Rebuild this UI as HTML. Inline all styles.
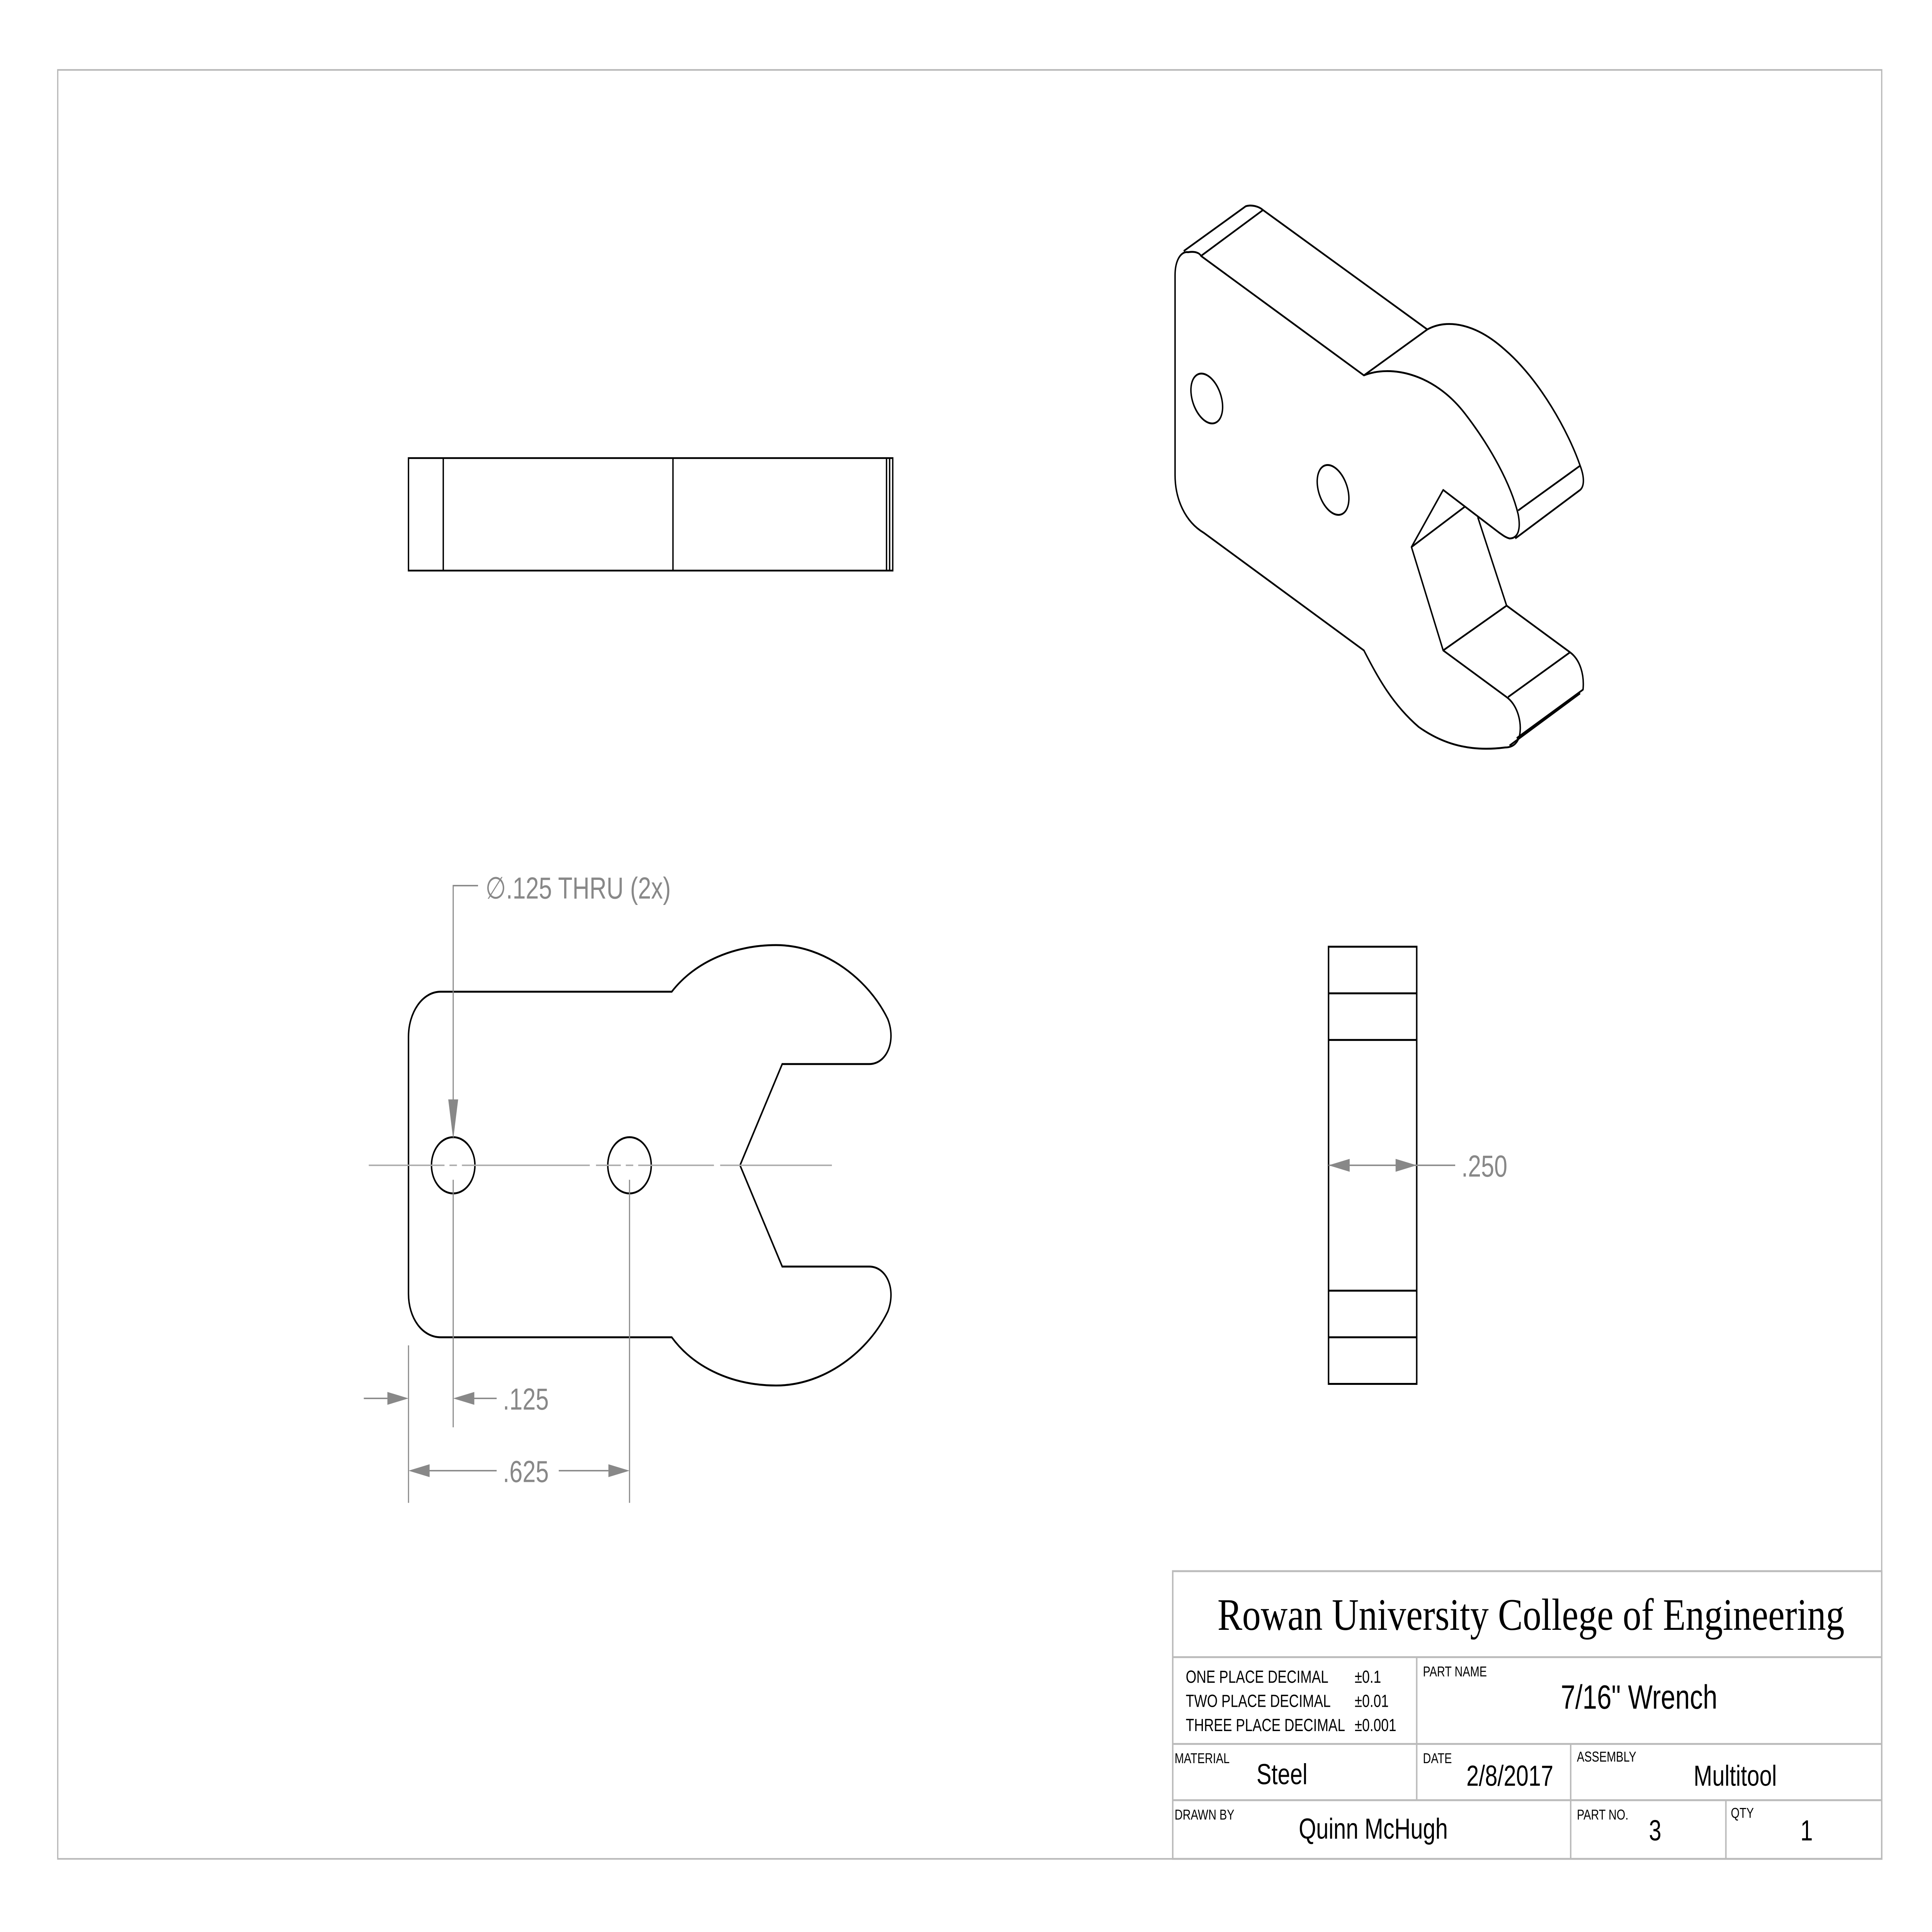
<!DOCTYPE html>
<html><head><meta charset="utf-8"><style>
html,body{margin:0;padding:0;background:#fff;width:100%;height:100%;overflow:hidden}
svg{display:block;width:100vw;height:100vh}
</style></head><body>
<svg viewBox="0 0 1556 1202" preserveAspectRatio="none" xmlns="http://www.w3.org/2000/svg">
<rect x="0" y="0" width="1556" height="1202" fill="#fff"/>
<rect x="46.5" y="43.5" width="1469" height="1113" fill="none" stroke="#b8b8b8" stroke-width="1"/>

<g fill="none" stroke="#000" stroke-width="1.1">
<rect x="329" y="285" width="390" height="70"/>
<line x1="357" y1="285" x2="357" y2="355"/>
<line x1="542" y1="285" x2="542" y2="355"/>
<line x1="714" y1="285" x2="714" y2="355"/>
<line x1="716.5" y1="285" x2="716.5" y2="355"/>
</g>

<g fill="none" stroke="#000" stroke-width="1.2">
<path d="M355,617 L541,617 C560,598 592,588 625,588 C665,588 700,610 715,634 C722,648 714,662 700,662 L630,662 L596,725 L630,788 L700,788 C714,788 722,802 715,816 C700,840 665,862 625,862 C592,862 560,852 541,832 L355,832 C340,832 329,820 329,805 L329,645 C329,630 340,617 355,617 Z"/>
<circle cx="365" cy="725" r="17.5"/>
<circle cx="507" cy="725" r="17.5"/>
</g>
<g stroke="#aaa" stroke-width="0.9" fill="none">
<line x1="297" y1="725" x2="358" y2="725"/>
<line x1="362" y1="725" x2="368" y2="725"/>
<line x1="372" y1="725" x2="475" y2="725"/>
<line x1="480" y1="725" x2="500" y2="725"/>
<line x1="504" y1="725" x2="510" y2="725"/>
<line x1="514" y1="725" x2="575" y2="725"/>
<line x1="580" y1="725" x2="670" y2="725"/>
</g>
<g stroke="#888" stroke-width="0.9" fill="none">
<polyline points="385,551 365,551 365,700"/>
<line x1="365" y1="734" x2="365" y2="888"/>
<line x1="507" y1="734" x2="507" y2="935"/>
<line x1="329" y1="837" x2="329" y2="935"/>
<line x1="293" y1="870" x2="312" y2="870"/>
<line x1="380" y1="870" x2="400" y2="870"/>
<line x1="345" y1="915" x2="400" y2="915"/>
<line x1="450" y1="915" x2="490" y2="915"/>
</g>
<g fill="#888">
<polygon points="365,709 361,684 369,684"/>
<polygon points="329,870 312,866 312,874"/>
<polygon points="365,870 382,866 382,874"/>
<polygon points="329,915 346,911 346,919"/>
<polygon points="507,915 490,911 490,919"/>
</g>
<g fill="#888" font-family="'Liberation Sans Narrow','Liberation Sans',sans-serif" font-size="19">
<text x="405" y="877">.125</text>
<text x="405" y="922">.625</text>
<text x="391" y="559">∅.125 THRU (2x)</text>
</g>

<g fill="none" stroke="#000" stroke-width="1.2">
<rect x="1070" y="589" width="71" height="272"/>
<line x1="1070" y1="618" x2="1141" y2="618"/>
<line x1="1070" y1="647" x2="1141" y2="647"/>
<line x1="1070" y1="803" x2="1141" y2="803"/>
<line x1="1070" y1="832" x2="1141" y2="832"/>
</g>
<line x1="1070" y1="725" x2="1172" y2="725" stroke="#888" stroke-width="0.9"/>
<polygon points="1070,725 1087,721 1087,729" fill="#888"/>
<polygon points="1141,725 1124,721 1124,729" fill="#888"/>
<text x="1177" y="732" fill="#888" font-family="'Liberation Sans',sans-serif" font-size="19">.250</text>

<g transform="translate(933.6,117.9) scale(0.2322)" fill="none" stroke="#000" stroke-width="5" stroke-linejoin="round">
<path d="M100,168 C125,165 140,170 145,178 L710,498 C800,470 950,490 1060,600 C1150,690 1220,790 1245,870 C1255,910 1245,935 1215,935 C1200,932 1190,925 1180,920 L985,805 L875,958 L985,1235 L1205,1360 C1240,1380 1255,1420 1252,1450 C1250,1480 1230,1495 1200,1495 C1100,1505 1000,1495 900,1440 C810,1380 760,1310 710,1235 L155,920 C90,890 55,830 55,765 L55,230 C55,190 75,165 100,168 Z"/>
<path d="M85,165 L300,45 C320,40 345,45 360,55 L930,375"/>
<line x1="145" y1="178" x2="360" y2="55"/>
<line x1="710" y1="498" x2="930" y2="375"/>
<path d="M930,375 C1000,345 1100,360 1200,430 C1320,510 1420,650 1460,740 C1475,770 1475,795 1460,805 L1235,935"/>
<line x1="1245" y1="860" x2="1460" y2="740"/>
<line x1="875" y1="958" x2="1060" y2="850"/>
<line x1="1105" y1="878" x2="1205" y2="1115"/>
<line x1="1205" y1="1115" x2="985" y2="1235"/>
<line x1="1205" y1="1115" x2="1425" y2="1240"/>
<line x1="1210" y1="1360" x2="1425" y2="1240"/>
<path d="M1425,1240 C1460,1260 1475,1300 1470,1340 L1240,1470"/>
<line x1="1460" y1="1350" x2="1215" y2="1490"/>
<ellipse cx="165" cy="560" rx="48" ry="72" transform="rotate(-30 165 560)"/>
<ellipse cx="603" cy="805" rx="48" ry="72" transform="rotate(-30 603 805)"/>
</g>

<g stroke="#bbb" stroke-width="1.2" fill="none">
<rect x="944.5" y="977.5" width="571" height="179"/>
<line x1="944" y1="1031" x2="1515" y2="1031"/>
<line x1="944" y1="1085" x2="1515" y2="1085"/>
<line x1="944" y1="1120" x2="1515" y2="1120"/>
<line x1="1141" y1="1031" x2="1141" y2="1120"/>
<line x1="1265" y1="1085" x2="1265" y2="1156"/>
<line x1="1390" y1="1120" x2="1390" y2="1156"/>
</g>
<text x="1233" y="1014" text-anchor="middle" font-family="'Liberation Serif',serif" font-size="28" fill="#000" textLength="505" lengthAdjust="spacingAndGlyphs">Rowan University College of Engineering</text>
<g font-family="'Liberation Sans Narrow','Liberation Sans',sans-serif" fill="#000">
<g font-size="11">
<text x="955" y="1047">ONE PLACE DECIMAL</text><text x="1091" y="1047">±0.1</text>
<text x="955" y="1062">TWO PLACE DECIMAL</text><text x="1091" y="1062">±0.01</text>
<text x="955" y="1077">THREE PLACE DECIMAL</text><text x="1091" y="1077">±0.001</text>
</g>
<g font-size="9">
<text x="1146" y="1043">PART NAME</text>
<text x="946" y="1097">MATERIAL</text>
<text x="1146" y="1097">DATE</text>
<text x="1270" y="1096">ASSEMBLY</text>
<text x="946" y="1132">DRAWN BY</text>
<text x="1270" y="1132">PART NO.</text>
<text x="1394" y="1131">QTY</text>
</g>
<text x="1257" y="1063" font-size="21">7/16" Wrench</text>
<g font-size="18">
<text x="1012" y="1110">Steel</text>
<text x="1181" y="1111">2/8/2017</text>
<text x="1364" y="1111">Multitool</text>
<text x="1046" y="1144">Quinn McHugh</text>
<text x="1328" y="1145">3</text>
<text x="1450" y="1145">1</text>
</g>
</g>
</svg>
</body></html>
